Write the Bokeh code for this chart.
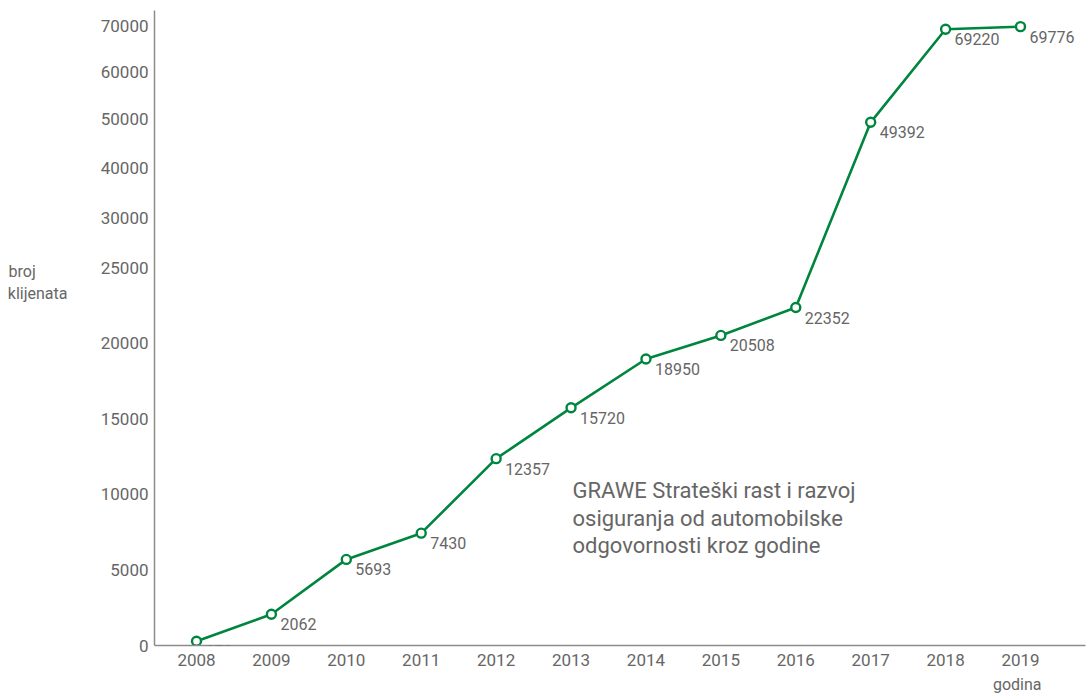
import numpy as np
from bokeh.plotting import figure
from bokeh.models import (ColumnDataSource, FixedTicker, CustomJSTickFormatter,
                          LabelSet, Label, Range1d, LinearAxis, Title)
from bokeh.core.properties import value
from bokeh.embed import file_html
from bokeh.resources import INLINE

# ---------------- data ----------------
years = [2008, 2009, 2010, 2011, 2012, 2013, 2014, 2015, 2016, 2017, 2018, 2019]
clients = [279, 2062, 5693, 7430, 12357, 15720, 18950, 20508, 22352, 49392, 69220, 69776]

# y axis of the original is non-linear: equal steps of 5000 up to 25000, compressed above
tick_values = [0, 5000, 10000, 15000, 20000, 25000, 30000, 40000, 50000, 60000, 70000]
tick_slots = [0, 1, 2, 3, 4, 5, 5.65, 6.31, 6.96, 7.58, 8.2]

y_title_lines = ["broj", "klijenata"]
x_title = "godina"
note_lines = ["GRAWE Strateški rast  i razvoj",
              "osiguranja od automobilske",
              "odgovornosti kroz godine"]

# ---------------- style ----------------
GREEN = "#00853F"
GRAY = "#666666"
AXIS = "#8c8c8c"
FONT = "Roboto"

W, H = 1089, 699
# frame geometry in page pixels
FL, FR, FT, FB = 154, 1085, 10, 645
PX_PER_SLOT = 75.6
X_FIRST_PX, X_LAST_PX = 196, 1020
px_per_year = (X_LAST_PX - X_FIRST_PX) / (years[-1] - years[0])
x0 = years[0] - (X_FIRST_PX - FL) / px_per_year
x1 = years[-1] + (FR - X_LAST_PX) / px_per_year
y1 = (FB - FT) / PX_PER_SLOT


def x_at(px):
    return x0 + (px - FL) / px_per_year


def y_at(py):
    return (FB - py) / PX_PER_SLOT


y_pos = np.interp(clients, tick_values, tick_slots)

src = ColumnDataSource(dict(x=years, y=y_pos, label=[str(v) for v in clients]))

p = figure(width=W, height=H, x_range=Range1d(x0, x1), y_range=Range1d(0, y1),
           output_backend="svg", toolbar_location=None,
           min_border_left=FL, min_border_right=W - FR,
           min_border_top=FT, min_border_bottom=H - FB)
p.outline_line_color = None
p.xgrid.grid_line_color = None
p.ygrid.grid_line_color = None
p.background_fill_color = "white"
p.border_fill_color = "white"

# axes
for ax in (p.xaxis[0], p.yaxis[0]):
    ax.axis_line_color = AXIS
    ax.axis_line_width = 1.5
    ax.major_tick_line_color = None
    ax.minor_tick_line_color = None
    ax.major_tick_out = 0
    ax.major_tick_in = 0
    ax.major_label_text_font = FONT
    ax.major_label_text_font_size = "17px"
    ax.major_label_text_color = GRAY

p.xaxis.ticker = FixedTicker(ticks=years)
p.xaxis.major_label_standoff = 8
p.yaxis.ticker = FixedTicker(ticks=tick_slots)
p.yaxis.major_label_standoff = 6
p.yaxis.formatter = CustomJSTickFormatter(args=dict(slots=tick_slots, vals=tick_values), code="""
let best = 0, bd = 1e9;
for (let i = 0; i < slots.length; i++) {
  const d = Math.abs(slots[i] - tick);
  if (d < bd) { bd = d; best = i; }
}
return String(vals[best]);
""")

# y title: an extra label-only axis on the left. Its label is centred on the frame,
# so empty trailing lines lift the two text lines up to the 25000 level; the short
# first line is padded so that both lines start at the same x.
pad = "\u00a0" * 8
y_title_text = y_title_lines[0] + pad + "\n" + y_title_lines[1] + "\n\n\n\n"
yt = LinearAxis(ticker=FixedTicker(ticks=[]), axis_line_color=None,
                major_tick_line_color=None, minor_tick_line_color=None,
                major_tick_out=0, major_tick_in=0,
                axis_label=y_title_text, axis_label_orientation="horizontal",
                axis_label_standoff=30, axis_label_text_font=FONT,
                axis_label_text_font_size="16px", axis_label_text_font_style="normal",
                axis_label_text_color=GRAY)
p.add_layout(yt, "left")

# x title
p.add_layout(Title(text=x_title, align="right", offset=44, standoff=8,
                   text_font=FONT, text_font_size="16px", text_font_style="normal",
                   text_color=GRAY), "below")

# series
p.line("x", "y", source=src, line_color=GREEN, line_width=2.6)
p.scatter("x", "y", source=src, size=9, fill_color="white", line_color=GREEN, line_width=2.4)

p.add_layout(LabelSet(x="x", y="y", text="label", source=src, x_offset=9, y_offset=-10,
                      text_align="left", text_baseline="middle",
                      text_font=value(FONT), text_font_size="16px", text_color=GRAY))

# note
for i, t in enumerate(note_lines):
    p.add_layout(Label(x=x_at(572), y=y_at(490 + 27.5 * i), text=t, text_align="left",
                       text_baseline="middle", text_font=FONT, text_font_size="22px",
                       text_color=GRAY))

open("out.html", "w").write(file_html(p, INLINE))
